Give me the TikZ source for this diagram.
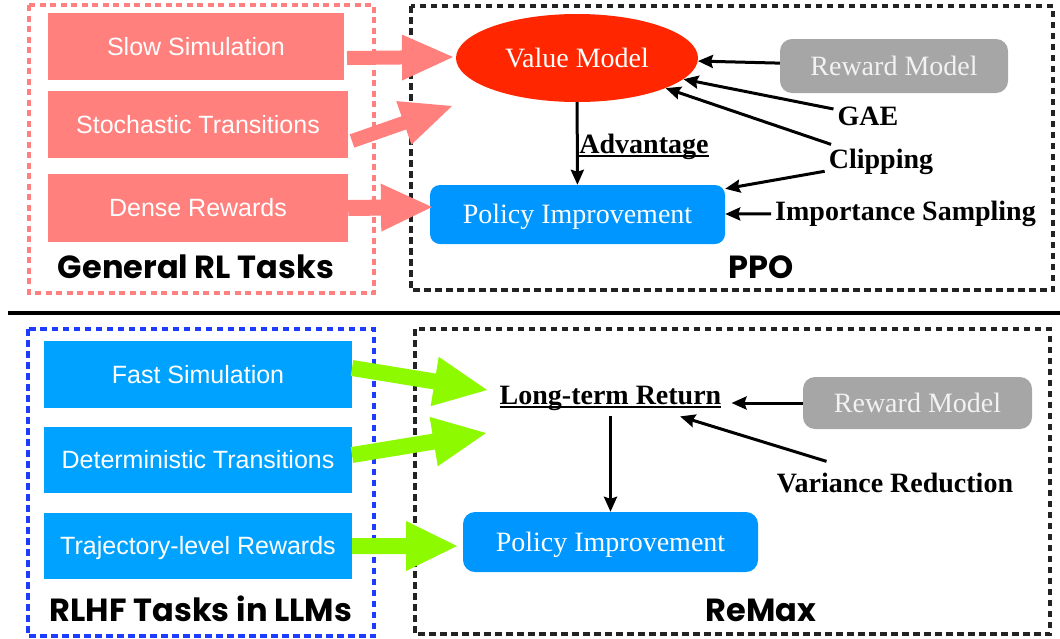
\documentclass[tikz,border=0pt]{standalone}
\usepackage{fontspec}
\setmainfont{Liberation Serif}
\setsansfont{Liberation Sans}
\newfontfamily\comic{Poppins}
\usetikzlibrary{shapes.geometric,arrows.meta,calc}
\definecolor{salmon}{RGB}{255,128,124}
\definecolor{reddash}{RGB}{255,128,128}
\definecolor{valred}{RGB}{255,38,0}
\definecolor{rmgrey}{RGB}{166,166,166}
\definecolor{rmtext}{RGB}{242,242,242}
\definecolor{polblue}{RGB}{0,150,255}
\definecolor{taskblue}{RGB}{0,162,255}
\definecolor{bluedash}{RGB}{30,60,255}
\definecolor{lime}{RGB}{142,250,0}
\definecolor{darkdash}{RGB}{35,35,35}
\newcommand{\myul}[1]{\setbox0\hbox{#1}\rlap{\rule[-3.8pt]{\wd0}{2pt}}\box0}
\newcommand{\fatarr}[6]{%
  \coordinate (fb) at ($(#2)!#5!(#1)$);
  \fill[#6] ($(#1)!#3!90:(#2)$) -- ($(fb)!#3!90:(#2)$) -- ($(fb)!#4!90:(#2)$) -- (#2)
    -- ($(fb)!#4!-90:(#2)$) -- ($(fb)!#3!-90:(#2)$) -- ($(#1)!#3!-90:(#2)$) -- cycle;}
\begin{document}
\begin{tikzpicture}[x=1pt,y=-1pt,
  sbox/.style={rectangle, inner sep=0pt, text=white,
    font=\sffamily\fontsize{25}{30}\selectfont, text height=17.9pt, text depth=0pt},
  tbox/.style={inner sep=0pt, font=\fontsize{28}{34}\selectfont,
    text height=18.5pt, text depth=0pt},
  lab/.style={font=\bfseries\fontsize{28}{34}\selectfont, inner sep=4pt, anchor=base},
  ctitle/.style={font=\comic\bfseries\fontsize{32}{38}\selectfont, inner sep=0pt, anchor=base},
  arr/.style={line width=3pt, -{Stealth[length=15pt,width=13pt,inset=2pt]}},
  frame/.style={line width=3.4pt, dash pattern=on 6.5pt off 4.5pt}
]
\useasboundingbox (0,0) rectangle (1060,638);
% ---------- top half ----------
\draw[frame, reddash, line width=3.6pt, dash pattern=on 6pt off 4.5pt] (29,5) rectangle (374,293);
\draw[frame, darkdash] (411,6) rectangle (1053,290);
\node[sbox, fill=salmon, minimum width=296pt, minimum height=67pt] (ss) at (196,46.5) {Slow Simulation};
\node[sbox, fill=salmon, minimum width=300pt, minimum height=67pt] (st) at (198,124.5) {Stochastic Transitions};
\node[sbox, fill=salmon, minimum width=300pt, minimum height=68pt] (dr) at (198,208) {Dense Rewards};
\node[ctitle] (grl) at (196,278) {General RL Tasks};
\node[tbox, ellipse, fill=valred, text=white, minimum width=242pt, minimum height=88pt] (vm) at (577,58) {Value Model};
\node[tbox, rectangle, rounded corners=12pt, fill=rmgrey, text=rmtext, minimum width=228pt, minimum height=54pt] (rm1) at (894,66) {Reward Model};
\node[tbox, rectangle, rounded corners=10pt, fill=polblue, text=white, minimum width=295pt, minimum height=59pt] (pi1) at (577.5,214.5) {Policy Improvement};
\node[lab] (gae) at (868,125) {GAE};
\node[lab] (clip) at (881,168) {Clipping};
\node[lab] (is) at (905.5,220) {Importance Sampling};
\node[lab, inner sep=0pt] (adv) at (644,153) {\myul{Advantage}};
\node[ctitle] (ppo) at (761,278) {PPO};
\draw[arr] (rm1) -- (vm);
\draw[arr] (gae) -- (vm);
\draw[arr] (clip) -- (vm);
\draw[arr] (clip) -- (pi1);
\draw[arr] (is) -- (pi1);
\draw[arr] (vm) -- (pi1);
\coordinate (p1s) at (347,58);  \coordinate (p1t) at (453,57);
\coordinate (p2s) at (352,141); \coordinate (p2t) at (452,106);
\coordinate (p3t) at (432,207);
\fatarr{p1s}{p1t}{7pt}{23pt}{51pt}{salmon}
\fatarr{p2s}{p2t}{7pt}{23pt}{51pt}{salmon}
\fatarr{dr.east}{p3t}{8pt}{24pt}{51pt}{salmon}
% ---------- divider ----------
\draw[line width=3.8pt] (8,313) -- (1060,313);
% ---------- bottom half ----------
\draw[frame, bluedash] (28,329) rectangle (374,636);
\draw[frame, darkdash] (415,329) rectangle (1050,634);
\node[sbox, fill=taskblue, minimum width=308pt, minimum height=67pt] (fs) at (198,374.5) {Fast Simulation};
\node[sbox, fill=taskblue, minimum width=308pt, minimum height=66pt] (dt) at (198,460) {Deterministic Transitions};
\node[sbox, fill=taskblue, minimum width=308pt, minimum height=66pt] (tr) at (198,546) {Trajectory-level Rewards};
\node[ctitle] (rlhf) at (201,621) {RLHF Tasks in LLMs};
\node[lab, inner xsep=10pt, inner ysep=6pt] (ltr) at (610.5,404) {\myul{Long-term Return}};
\node[tbox, rectangle, rounded corners=12pt, fill=rmgrey, text=rmtext, minimum width=229pt, minimum height=52pt] (rm2) at (917.5,403) {Reward Model};
\node[lab] (vr) at (895,492) {Variance Reduction};
\node[tbox, rectangle, rounded corners=12pt, fill=polblue, text=white, minimum width=295pt, minimum height=60pt] (pi2) at (610.5,542) {Policy Improvement};
\node[ctitle] (remax) at (761,621) {ReMax};
\draw[arr] (rm2) -- (rm2 -| ltr.east);
\draw[arr] ($(vr.north west)!0.22!(vr.north east) + (0,-7)$) -- ($(ltr.south)!0.575!(ltr.south east)$);
\draw[arr] (ltr) -- (pi2);
\coordinate (g1s) at (352,368); \coordinate (g1t) at (487,390);
\coordinate (g2s) at (352,455); \coordinate (g2t) at (486,433);
\coordinate (g3t) at (457,546);
\fatarr{g1s}{g1t}{8pt}{25pt}{53pt}{lime}
\fatarr{g2s}{g2t}{8pt}{25pt}{53pt}{lime}
\fatarr{tr.east}{g3t}{8pt}{25pt}{51pt}{lime}
\end{tikzpicture}
\end{document}
